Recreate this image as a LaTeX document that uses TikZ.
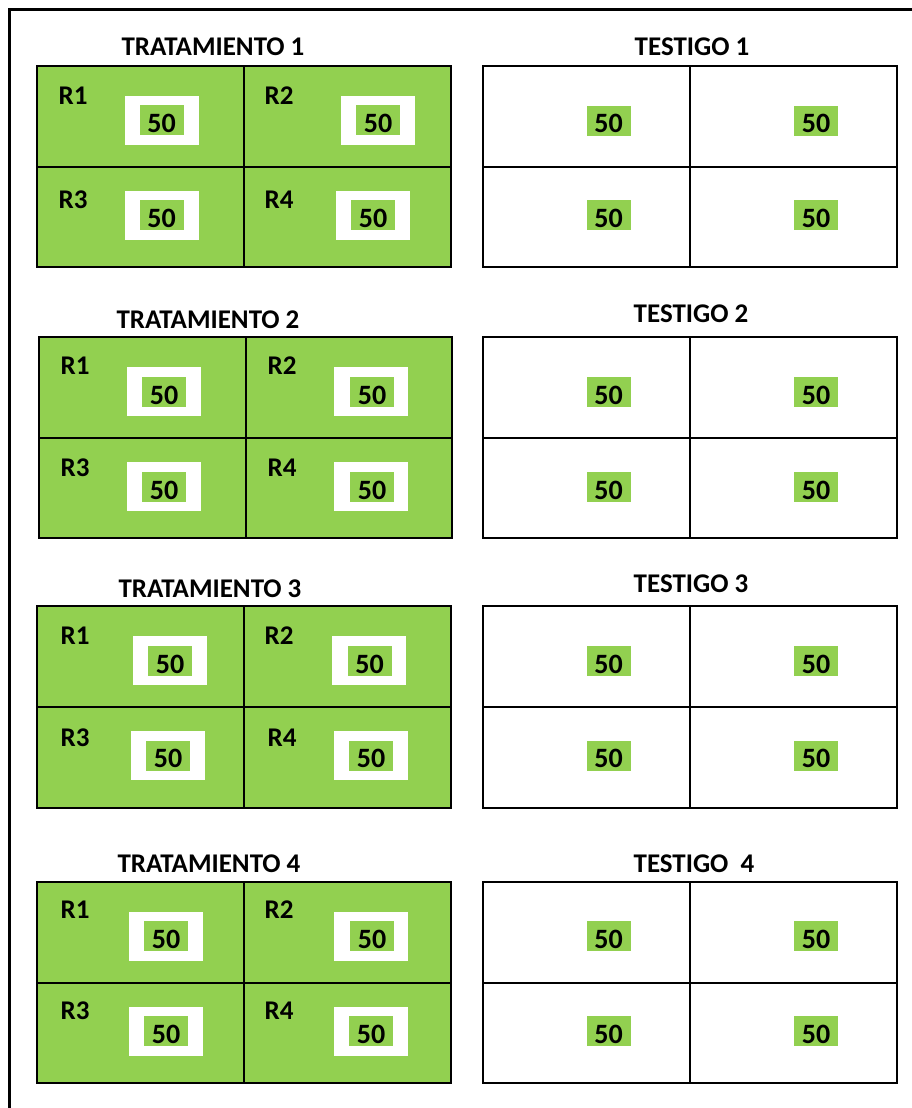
\documentclass[tikz,border=0pt]{standalone}
\usepackage{fontspec}
\setmainfont{Carlito}
\usepackage{xcolor}
\definecolor{parcela}{HTML}{92D050}
\usetikzlibrary{positioning}

\tikzset{
  plotline/.style={draw,line width=2pt},
  titulo/.style={font=\bfseries\fontsize{27}{31}\selectfont,inner sep=0pt},
  rep/.style={font=\bfseries\fontsize{27}{31}\selectfont,inner sep=0pt},
  marco/.style={fill=white,minimum width=74pt,minimum height=49pt,inner sep=0pt},
  dato/.style={fill=parcela,minimum width=44pt,minimum height=30pt,inner sep=0pt,
    text height=24pt,text depth=0pt,font=\bfseries\fontsize{28}{32}\selectfont}
}

\begin{document}
\begin{tikzpicture}[x=1pt,y=-1pt]
\useasboundingbox (0,0) rectangle (912,1108);
% marco exterior
\draw[line width=3pt] (9.5,1108) -- (9.5,9.5) -- (912,9.5);

% Tratamiento 1
\node[titulo] (trat1) at (213,47) {TRATAMIENTO 1};
\fill[parcela] (37,66) rectangle (451,267);
\node[marco] (t1m1) at (162,120.5) {};
\node[marco] (t1m2) at (378,120.5) {};
\node[marco] (t1m3) at (162,215.5) {};
\node[marco] (t1m4) at (373,215.5) {};
\node[dato] (t1d1) at (161.5,120) {50};
\node[dato] (t1d2) at (378,120) {50};
\node[dato] (t1d3) at (161.5,215) {50};
\node[dato] (t1d4) at (373,215) {50};
\node[rep] (t1r1) at (73,95.5) {R1};
\node[rep] (t1r2) at (279,95.5) {R2};
\node[rep] (t1r3) at (73,199.5) {R3};
\node[rep] (t1r4) at (279,199.5) {R4};
\draw[plotline] (37,66) rectangle (451,267) (244,66) -- (244,267) (37,167) -- (451,167);

% Testigo 1
\node[titulo] (test1) at (692,47) {TESTIGO 1};
\node[dato] (s1d1) at (608.5,120.5) {50};
\node[dato] (s1d2) at (816,120.5) {50};
\node[dato] (s1d3) at (608.5,215) {50};
\node[dato] (s1d4) at (816,215) {50};
\draw[plotline] (483,66) rectangle (897,267) (690,66) -- (690,267) (483,167) -- (897,167);

% Tratamiento 2
\node[titulo] (trat2) at (208,320) {TRATAMIENTO 2};
\fill[parcela] (39,337) rectangle (452,538);
\node[marco] (t2m1) at (164,391.5) {};
\node[marco] (t2m2) at (371,391.5) {};
\node[marco] (t2m3) at (164,486.5) {};
\node[marco] (t2m4) at (371,486.5) {};
\node[dato] (t2d1) at (164,392) {50};
\node[dato] (t2d2) at (372,392) {50};
\node[dato] (t2d3) at (164,487) {50};
\node[dato] (t2d4) at (372,487) {50};
\node[rep] (t2r1) at (75,365.5) {R1};
\node[rep] (t2r2) at (282,365.5) {R2};
\node[rep] (t2r3) at (75,467.5) {R3};
\node[rep] (t2r4) at (282,467.5) {R4};
\draw[plotline] (39,337) rectangle (452,538) (246,337) -- (246,538) (39,438) -- (452,438);

% Testigo 2
\node[titulo] (test2) at (691,314) {TESTIGO 2};
\node[dato] (s2d1) at (608.5,392) {50};
\node[dato] (s2d2) at (816,392) {50};
\node[dato] (s2d3) at (608.5,487) {50};
\node[dato] (s2d4) at (816,487) {50};
\draw[plotline] (483,337) rectangle (897,538) (690,337) -- (690,538) (483,438) -- (897,438);

% Tratamiento 3
\node[titulo] (trat3) at (210,589) {TRATAMIENTO 3};
\fill[parcela] (37,606) rectangle (451,808);
\node[marco] (t3m1) at (170,660.5) {};
\node[marco] (t3m2) at (369,660.5) {};
\node[marco] (t3m3) at (168,755.5) {};
\node[marco] (t3m4) at (371,755.5) {};
\node[dato] (t3d1) at (170,661) {50};
\node[dato] (t3d2) at (369.5,661) {50};
\node[dato] (t3d3) at (168,755.5) {50};
\node[dato] (t3d4) at (371,755.5) {50};
\node[rep] (t3r1) at (75,635.5) {R1};
\node[rep] (t3r2) at (279,635.5) {R2};
\node[rep] (t3r3) at (75,737.5) {R3};
\node[rep] (t3r4) at (282,737.5) {R4};
\draw[plotline] (37,606) rectangle (451,808) (244,606) -- (244,808) (37,707) -- (451,707);

% Testigo 3
\node[titulo] (test3) at (691,584) {TESTIGO 3};
\node[dato] (s3d1) at (608.5,661) {50};
\node[dato] (s3d2) at (816,661) {50};
\node[dato] (s3d3) at (608.5,755.5) {50};
\node[dato] (s3d4) at (816,755.5) {50};
\draw[plotline] (483,606) rectangle (897,808) (690,606) -- (690,808) (483,707) -- (897,707);

% Tratamiento 4
\node[titulo] (trat4) at (209,863.5) {TRATAMIENTO 4};
\fill[parcela] (37,882) rectangle (451,1083);
\node[marco] (t4m1) at (166,936.5) {};
\node[marco] (t4m2) at (371,936.5) {};
\node[marco] (t4m3) at (166,1031.5) {};
\node[marco] (t4m4) at (371,1031.5) {};
\node[dato] (t4d1) at (166,936) {50};
\node[dato] (t4d2) at (372,936) {50};
\node[dato] (t4d3) at (166,1031) {50};
\node[dato] (t4d4) at (371,1031) {50};
\node[rep] (t4r1) at (75,909.5) {R1};
\node[rep] (t4r2) at (279,909.5) {R2};
\node[rep] (t4r3) at (75,1010.5) {R3};
\node[rep] (t4r4) at (279,1010.5) {R4};
\draw[plotline] (37,882) rectangle (451,1083) (244,882) -- (244,1083) (37,983) -- (451,983);

% Testigo 4
\node[titulo] (test4) at (694,863.5) {TESTIGO\ \ 4};
\node[dato] (s4d1) at (608.5,936) {50};
\node[dato] (s4d2) at (816,936) {50};
\node[dato] (s4d3) at (608.5,1031) {50};
\node[dato] (s4d4) at (816,1031) {50};
\draw[plotline] (483,882) rectangle (897,1083) (690,882) -- (690,1083) (483,983) -- (897,983);

\end{tikzpicture}
\end{document}
